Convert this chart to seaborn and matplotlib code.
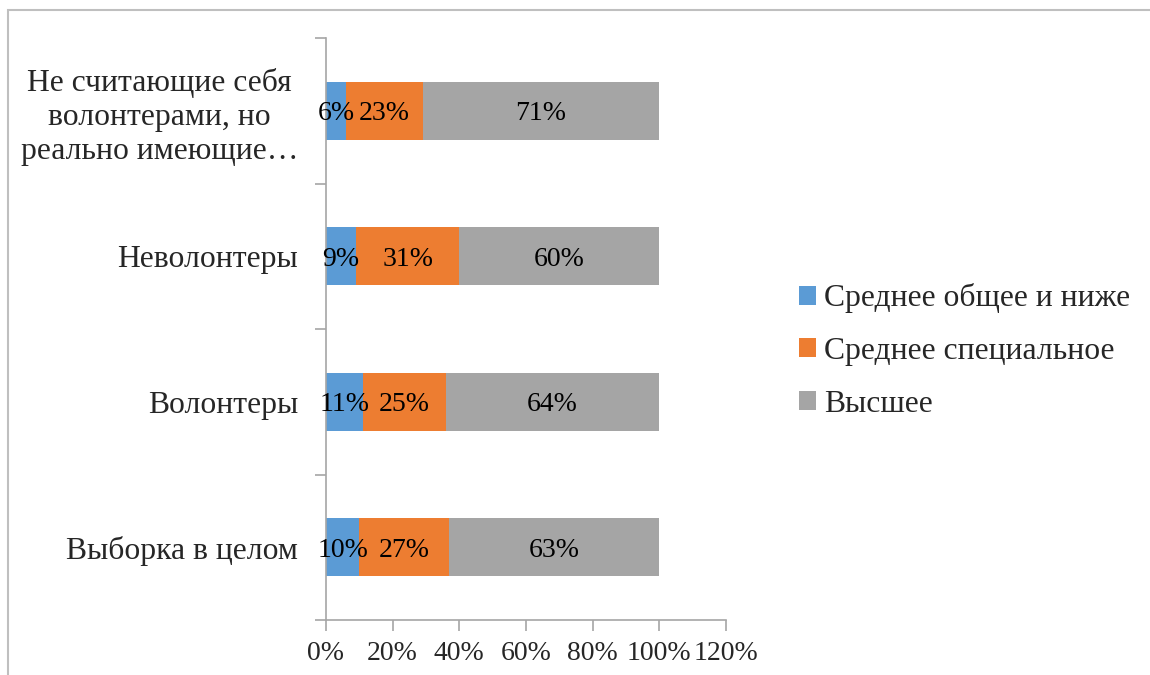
import pandas as pd
import matplotlib.pyplot as plt
import seaborn as sns
from matplotlib.patches import Rectangle, Patch
from matplotlib.ticker import FixedLocator, PercentFormatter

groups = [
    "Не считающие себя\nволонтерами, но\nреально имеющие…",
    "Неволонтеры",
    "Волонтеры",
    "Выборка в целом",
]
series = ["Среднее общее и ниже", "Среднее специальное", "Высшее"]
low  = [6, 9, 11, 10]
mid  = [23, 31, 25, 27]
high = [71, 60, 64, 63]
xticks = [0, 20, 40, 60, 80, 100, 120]

COLORS = ["#5B9BD5", "#ED7D31", "#A5A5A5"]
AXIS_C = "#A6A6A6"
FONT = "Liberation Serif"
FS = 22.8      # category labels, legend
FS_NUM = 20    # x ticks, bar labels

sns.set_theme(style="white")
plt.rcParams["font.family"] = [FONT, "DejaVu Serif"]

df = pd.DataFrame({"group": groups, "low": low, "mid": mid, "high": high})
df["c1"] = df["low"]
df["c2"] = df["low"] + df["mid"]
df["c3"] = df["c2"] + df["high"]

fig = plt.figure(figsize=(11.5, 6.75), dpi=100)
ax = fig.add_axes([326 / 1150, 1 - 620 / 675, 400 / 1150, 582 / 675])

# stacked via overdraw: widest cumulative first
for col, color in zip(["c3", "c2", "c1"], COLORS[::-1]):
    sns.barplot(data=df, x=col, y="group", orient="h", color=color,
                width=0.4, saturation=1, ax=ax, linewidth=0)

# segment labels
for i, row in df.iterrows():
    starts = [0, row["c1"], row["c2"]]
    for s, v in zip(starts, [row["low"], row["mid"], row["high"]]):
        ax.text(s + v / 2, i, f"{v}%", ha="center", va="center_baseline",
                fontsize=FS_NUM, color="black")

ax.set_xlim(0, 120)
ax.set_ylim(3.5, -0.5)
ax.xaxis.set_major_locator(FixedLocator(xticks))
ax.xaxis.set_major_formatter(PercentFormatter(decimals=0))
ax.set_xlabel("")
ax.set_ylabel("")

for side in ["top", "right"]:
    ax.spines[side].set_visible(False)
for side in ["left", "bottom"]:
    ax.spines[side].set_color(AXIS_C)
    ax.spines[side].set_linewidth(1.2)

ax.tick_params(axis="x", direction="out", length=8, width=1.2, color=AXIS_C,
               labelsize=FS_NUM, pad=7, bottom=True)
ax.tick_params(axis="y", which="major", length=0, labelsize=FS, pad=20)
ax.yaxis.set_minor_locator(FixedLocator([-0.5, 0.5, 1.5, 2.5, 3.5]))
ax.tick_params(axis="y", which="minor", direction="out", length=8, width=1.2,
               color=AXIS_C, left=True)
for lab in ax.get_yticklabels():
    lab.set_multialignment("center")
    lab.set_linespacing(1.25)

handles = [Patch(facecolor=c, edgecolor="none") for c in COLORS]
fig.legend(handles, series, loc="center left",
           bbox_to_anchor=(770 / 1150, 1 - 351 / 675), frameon=False,
           fontsize=FS, handlelength=0.55, handleheight=0.55,
           handletextpad=0.25, labelspacing=0.75)

# chart-area border (Excel style), clipped by the image edge
fig.patches.append(Rectangle((8 / 1150, -0.1), 1.2, 1.1 - 10 / 675,
                             transform=fig.transFigure, fill=False,
                             edgecolor="#BFBFBF", linewidth=1.5))

fig.savefig("out.png", dpi=100)
